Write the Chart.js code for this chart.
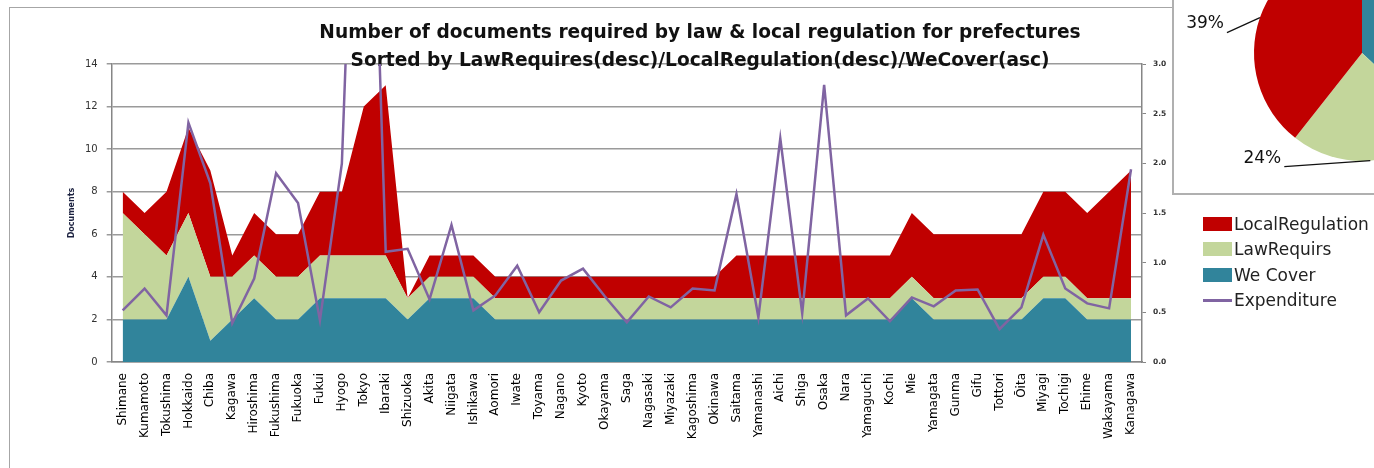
<!DOCTYPE html>
<html>
<head>
<meta charset="utf-8">
<script src="https://cdn.jsdelivr.net/npm/chart.js@4.4.1/dist/chart.umd.min.js"></script>
<style>
  html, body { margin: 0; padding: 0; background: #fff; overflow: hidden; }
  body { width: 1374px; height: 468px; position: relative; }
  #frame { position: absolute; left: 9px; top: 7px; width: 1400px; height: 500px; border: 1.5px solid #a6a6a6; }
  #main { position: absolute; left: 0; top: 0; }
  #pieBox { position: absolute; left: 1172px; top: -6px; width: 240px; height: 197px; border: 2px solid #b0b0b0; background: #fff; }
  #pie { position: absolute; left: 1173px; top: -55px; }
  #legend { position: absolute; left: 1203px; top: 211px; font-family: 'DejaVu Sans', sans-serif; font-size: 17px; color: #222; white-space: nowrap; }
  #legend .row { height: 25.5px; display: flex; align-items: center; }
  #legend .sw { width: 29px; height: 14px; margin-right: 2px; flex: none; }
  #legend .ln { width: 29px; height: 2.5px; margin-right: 2px; flex: none; }
</style>
</head>
<body>
<div id="frame"></div>
<canvas id="main" width="1374" height="468"></canvas>
<div id="pieBox"></div>
<canvas id="pie" width="320" height="240"></canvas>
<div id="legend"></div>
<script>
// prefectures in the sorted order of the chart
const prefectures = ['Shimane', 'Kumamoto', 'Tokushima', 'Hokkaido', 'Chiba', 'Kagawa', 'Hiroshima',
  'Fukushima', 'Fukuoka', 'Fukui', 'Hyogo', 'Tokyo', 'Ibaraki', 'Shizuoka', 'Akita', 'Niigata',
  'Ishikawa', 'Aomori', 'Iwate', 'Toyama', 'Nagano', 'Kyoto', 'Okayama', 'Saga', 'Nagasaki',
  'Miyazaki', 'Kagoshima', 'Okinawa', 'Saitama', 'Yamanashi', 'Aichi', 'Shiga', 'Osaka', 'Nara',
  'Yamaguchi', 'Kochi', 'Mie', 'Yamagata', 'Gunma', 'Gifu', 'Tottori', 'Ōita', 'Miyagi', 'Tochigi',
  'Ehime', 'Wakayama', 'Kanagawa'];

// documents (stacked)
const weCover = [2, 2, 2, 4, 1, 2, 3, 2, 2, 3, 3, 3, 3, 2, 3, 3, 3, 2, 2, 2, 2, 2, 2, 2, 2,
  2, 2, 2, 2, 2, 2, 2, 2, 2, 2, 2, 3, 2, 2, 2, 2, 2, 3, 3, 2, 2, 2];
const lawRequirs = [5, 4, 3, 3, 3, 2, 2, 2, 2, 2, 2, 2, 2, 1, 1, 1, 1, 1, 1, 1, 1, 1, 1, 1, 1,
  1, 1, 1, 1, 1, 1, 1, 1, 1, 1, 1, 1, 1, 1, 1, 1, 1, 1, 1, 1, 1, 1];
const localRegulation = [1, 1, 3, 4, 5, 1, 2, 2, 2, 3, 3, 7, 8, 0, 1, 1, 1, 1, 1, 1, 1, 1, 1, 1, 1,
  1, 1, 1, 2, 2, 2, 2, 2, 2, 2, 2, 3, 3, 3, 3, 3, 3, 4, 4, 4, 5, 6];

// expenditure (right axis)
const expenditure = [0.52, 0.74, 0.47, 2.41, 1.8, 0.39, 0.84, 1.90, 1.60, 0.42, 2.0, 8.0, 1.11,
  1.14, 0.63, 1.38, 0.52, 0.67, 0.97, 0.50, 0.82, 0.94, 0.66, 0.40, 0.66, 0.55, 0.74, 0.72,
  1.69, 0.45, 2.25, 0.49, 2.79, 0.47, 0.64, 0.41, 0.65, 0.56, 0.72, 0.73, 0.33, 0.55, 1.28,
  0.74, 0.59, 0.54, 1.94];

const titleLines = ['Number of documents required by law & local regulation for prefectures',
  'Sorted by LawRequires(desc)/LocalRegulation(desc)/WeCover(asc)'];

const RED = '#C00000', GREEN = '#C3D69B', TEAL = '#31849B', PURPLE = '#8064A2';

const mainChart = new Chart(document.getElementById('main'), {
  type: 'line',
  data: {
    labels: prefectures,
    datasets: [
      { label: 'We Cover', data: weCover, backgroundColor: TEAL, borderWidth: 0, fill: 'origin', pointRadius: 0, order: 1 },
      { label: 'LawRequirs', data: lawRequirs, backgroundColor: GREEN, borderWidth: 0, fill: '-1', pointRadius: 0, order: 1 },
      { label: 'LocalRegulation', data: localRegulation, backgroundColor: RED, borderWidth: 0, fill: '-1', pointRadius: 0, order: 1 },
      { label: 'Expenditure', data: expenditure, yAxisID: 'y1', borderColor: PURPLE, borderWidth: 2.5,
        fill: false, pointRadius: 0, order: 0 }
    ]
  },
  options: {
    responsive: false,
    animation: false,
    layout: { padding: { left: 60, right: 34, top: 0, bottom: 0 } },
    plugins: {
      legend: { display: false },
      tooltip: { enabled: false },
      title: {
        display: true,
        text: titleLines,
        color: '#111',
        font: { family: 'DejaVu Sans', size: 18.6, weight: 'bold', lineHeight: 28.5 / 18.6 },
        padding: { top: 18.75, bottom: -11.75 }
      }
    },
    scales: {
      x: {
        offset: true,
        grid: { display: false },
        border: { color: '#868686', width: 1.5 },
        ticks: { autoSkip: false, minRotation: 90, maxRotation: 90, color: '#000',
          font: { family: 'DejaVu Sans', size: 12 } },
        afterFit: (s) => { s.height = 106; }
      },
      y: {
        stacked: true,
        min: 0,
        max: 14,
        ticks: { stepSize: 2, padding: 9, color: '#333', font: { family: 'DejaVu Sans', size: 10 } },
        grid: { color: '#9a9a9a', lineWidth: 1.5, tickLength: 5 },
        border: { color: '#868686', width: 1.5 },
        title: { display: true, text: 'Documents', color: '#1c2240',
          font: { family: 'DejaVu Sans', size: 8, weight: 'bold' }, padding: { top: 7 } },
        afterFit: (s) => { s.width = 51.7; }
      },
      y1: {
        position: 'right',
        min: 0,
        max: 3,
        ticks: { stepSize: 0.5, padding: 7, color: '#333', callback: (v) => v.toFixed(1),
          font: { family: 'DejaVu Sans', size: 7.5, weight: 'bold' } },
        grid: { drawOnChartArea: false, color: '#868686', tickLength: 4 },
        border: { color: '#868686', width: 1.5 },
        afterFit: (s) => { s.width = 198; }
      }
    }
  }
});

// legend: areas from top of stack down, then the line
const legendEl = document.getElementById('legend');
[2, 1, 0, 3].forEach((i) => {
  const ds = mainChart.data.datasets[i];
  const row = document.createElement('div');
  row.className = 'row';
  const sw = document.createElement('span');
  if (ds.fill === false) {
    sw.className = 'ln';
    sw.style.background = ds.borderColor;
  } else {
    sw.className = 'sw';
    sw.style.background = ds.backgroundColor;
  }
  const txt = document.createElement('span');
  txt.textContent = ds.label;
  row.appendChild(sw);
  row.appendChild(txt);
  legendEl.appendChild(row);
});

// share of documents, drawn as a pie
const sum = (a) => a.reduce((s, v) => s + v, 0);
const pieValues = [sum(weCover), sum(lawRequirs), sum(localRegulation)];

// leader line and label offsets from the rim point of each slice
const labelOffsets = { 1: { line: [-86, 6], text: [-89, -2] }, 2: { line: [-33, 15], text: [-36, 6] } };

const pieLabels = {
  id: 'pieLabels',
  afterDatasetsDraw(chart) {
    const ctx = chart.ctx;
    const total = sum(pieValues);
    const arcs = chart.getDatasetMeta(0).data;
    ctx.save();
    ctx.font = '17px "DejaVu Sans"';
    ctx.fillStyle = '#111';
    ctx.strokeStyle = '#111';
    ctx.lineWidth = 1.2;
    ctx.textAlign = 'right';
    ctx.textBaseline = 'middle';
    Object.keys(labelOffsets).forEach((k) => {
      const arc = arcs[k];
      const { x, y, startAngle, endAngle, outerRadius } = arc.getProps(['x', 'y', 'startAngle', 'endAngle', 'outerRadius'], true);
      const mid = (startAngle + endAngle) / 2;
      const rx = x + Math.cos(mid) * outerRadius;
      const ry = y + Math.sin(mid) * outerRadius;
      const o = labelOffsets[k];
      ctx.beginPath();
      ctx.moveTo(rx, ry);
      ctx.lineTo(rx + o.line[0], ry + o.line[1]);
      ctx.stroke();
      ctx.fillText(Math.round(pieValues[k] / total * 100) + '%', rx + o.text[0], ry + o.text[1]);
    });
    ctx.restore();
  }
};

new Chart(document.getElementById('pie'), {
  type: 'pie',
  data: {
    labels: ['We Cover', 'LawRequirs', 'LocalRegulation'],
    datasets: [{ data: pieValues, backgroundColor: [TEAL, GREEN, RED], borderWidth: 0 }]
  },
  options: {
    responsive: false,
    animation: false,
    layout: { padding: { left: 81, top: 0, right: 23, bottom: 24 } },
    plugins: { legend: { display: false }, tooltip: { enabled: false } }
  },
  plugins: [pieLabels]
});
</script>
</body>
</html>
